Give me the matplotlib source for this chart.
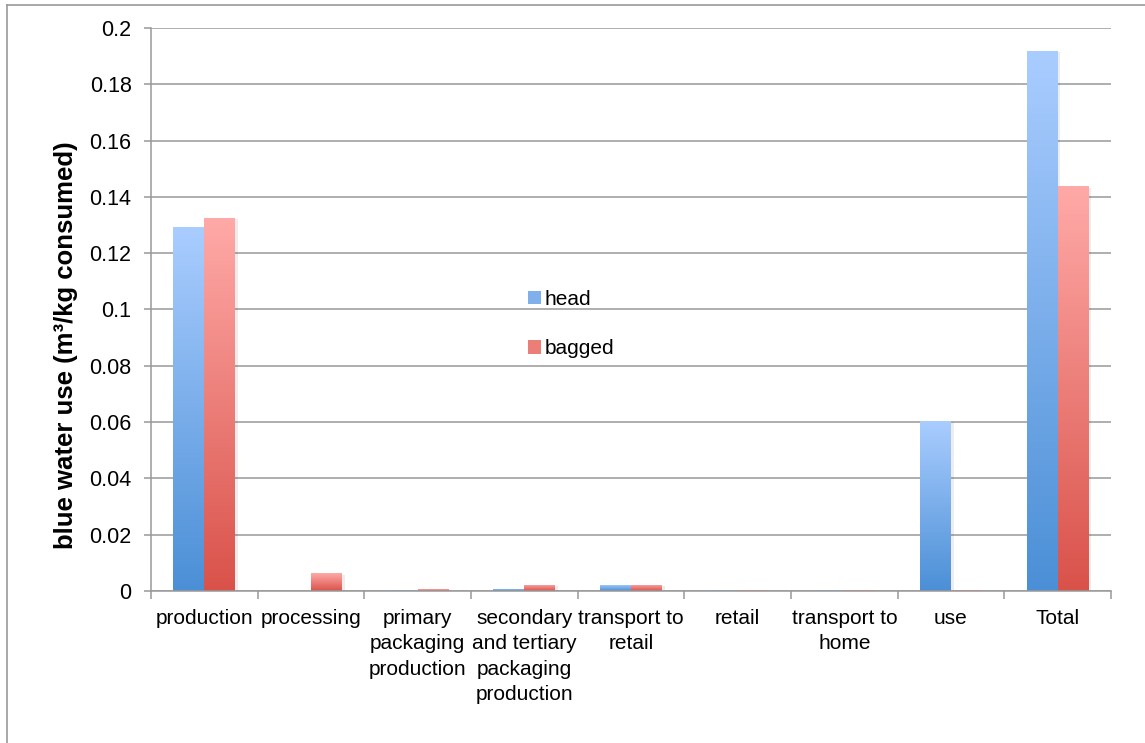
import numpy as np
import matplotlib
matplotlib.use('Agg')
import matplotlib.pyplot as plt
import matplotlib.patheffects as pe
from matplotlib.colors import LinearSegmentedColormap
from matplotlib.lines import Line2D
from matplotlib.patches import Patch

plt.rcParams['font.family'] = ['Liberation Sans', 'DejaVu Sans']

categories = ['production', 'processing', 'primary\npackaging\nproduction',
              'secondary\nand tertiary\npackaging\nproduction', 'transport to\nretail',
              'retail', 'transport to\nhome', 'use', 'Total']
head = [0.1292, 0.0, 0.0003, 0.0008, 0.0023, 0.0002, 0.0002, 0.0604, 0.1918]
bagged = [0.1325, 0.0063, 0.0007, 0.0022, 0.0023, 0.0002, 0.0002, 0.0002, 0.1438]
yticks = np.arange(0, 0.21, 0.02)

grid_col = '#999999'
blue_top, blue_bot = '#aacdff', '#4b8fd6'
red_top, red_bot = '#ffaaa8', '#d9524a'


def gradient_bars(ax, xs, vals, w, top, bot):
    cmap = LinearSegmentedColormap.from_list('g', [bot, top])
    grad = np.linspace(0, 1, 256).reshape(-1, 1)
    bars = ax.bar(xs, vals, w, color=bot, edgecolor='none', zorder=3,
                  path_effects=[pe.SimplePatchShadow(offset=(2, -1), shadow_rgbFace='k', alpha=0.07),
                                pe.Normal()])
    for b, x, v in zip(bars, xs, vals):
        if v <= 0:
            continue
        im = ax.imshow(grad, extent=[x - w / 2, x + w / 2, 0, v], origin='lower',
                       cmap=cmap, aspect='auto', zorder=3.5, interpolation='bilinear')
        im.set_clip_path(b)
    return bars


fig = plt.figure(figsize=(11.45, 7.43), dpi=100)
ax = fig.add_axes([0.1319, 0.2046, 0.9703 - 0.1319, 0.9623 - 0.2046])

x = np.arange(len(categories))
w = 0.29
gradient_bars(ax, x - w / 2, head, w, blue_top, blue_bot)
gradient_bars(ax, x + w / 2, bagged, w, red_top, red_bot)

ax.set_xlim(-0.5, len(categories) - 0.5)
ax.set_ylim(0, 0.2)
ax.set_yticks(yticks)
ax.set_yticklabels(['%g' % round(t, 2) for t in yticks])
ax.yaxis.grid(True, color=grid_col, lw=1.1, zorder=0)
ax.set_axisbelow(True)

for s in ['top', 'right']:
    ax.spines[s].set_visible(False)
for s in ['left', 'bottom']:
    ax.spines[s].set_color(grid_col)
    ax.spines[s].set_linewidth(1.1)
    ax.spines[s].set_zorder(4)

ax.set_xticks(x)
ax.set_xticklabels(categories, fontsize=15, linespacing=1.42)
ax.set_xticks(np.arange(-0.5, len(categories)), minor=True)
ax.tick_params(axis='x', which='major', length=0, pad=13)
ax.tick_params(axis='x', which='minor', length=6, width=1.1, color=grid_col)
ax.tick_params(axis='y', length=5, width=1.1, color=grid_col, labelsize=15.5, pad=9)

ax.set_ylabel('blue water use (m³/kg consumed)', fontsize=18.5, fontweight='bold')
ax.yaxis.set_label_coords(-0.076, 0.437)

handles = [Patch(facecolor='#7fb0ec', edgecolor='none'), Patch(facecolor='#ec7e78', edgecolor='none')]
ax.legend(handles, ['head', 'bagged'], loc='upper left', bbox_to_anchor=(0.373, 0.568),
          frameon=False, fontsize=15, handlelength=0.62, handleheight=0.62,
          handletextpad=0.2, labelspacing=1.45)

# outer chart frame
fig.add_artist(Line2D([7 / 1145, 7 / 1145], [0, 1 - 5 / 743], color=grid_col, lw=1.2))
fig.add_artist(Line2D([7 / 1145, 1], [1 - 5 / 743, 1 - 5 / 743], color=grid_col, lw=1.2))

fig.savefig('out.png', dpi=100)
